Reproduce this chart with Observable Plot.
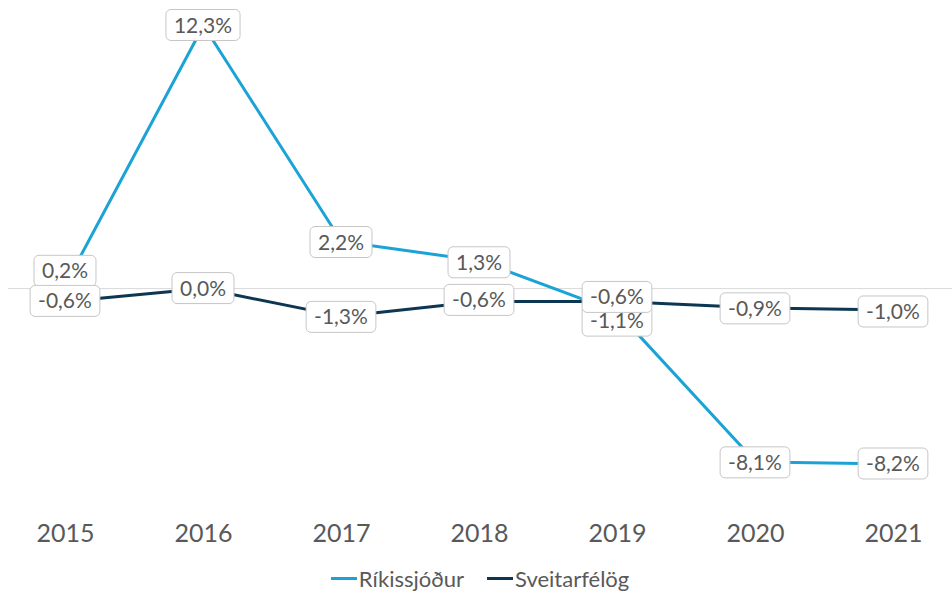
<!DOCTYPE html>
<html><head><meta charset="utf-8">
<script src="https://cdn.jsdelivr.net/npm/d3@7"></script>
<script src="https://cdn.jsdelivr.net/npm/@observablehq/plot@0.6"></script>
<style>
body{margin:0;background:#fff;font-family:Lato,"DejaVu Sans",sans-serif;}
#legend{display:flex;justify-content:center;align-items:center;height:37px;font-size:22px;color:#595959;gap:23px;padding-left:8px;}
#legend span.item{display:flex;align-items:center;}
#legend span.sw{display:inline-block;width:26px;height:3px;margin-right:2px;}
</style></head>
<body><div id="chart"></div><div id="legend"></div>
<script>
const years = [2015, 2016, 2017, 2018, 2019, 2020, 2021];
const seriesNames = ["Ríkissjóður", "Sveitarfélög"];
const rikissjodur = [0.2, 12.3, 2.2, 1.3, -1.1, -8.1, -8.2];
const sveitarfelog = [-0.6, 0.0, -1.3, -0.6, -0.6, -0.9, -1.0];
const colors = ["#1ba3d6", "#0c3651"];
// label nudges (px) to mimic the original label placement
const rikisNudge = [-13, 0, 1, 2, 9, 1, 0];
const sveitNudge = [0, 0, 1, -1, -4, 1, 2];

const fmt = v => v.toFixed(1).replace(".", ",") + "%";
const mk = (vals, nudge, s) => years.map((y, i) => ({year: y, value: vals[i], series: s, label: fmt(vals[i]), nudge: nudge[i]}));
const rData = mk(rikissjodur, rikisNudge, seriesNames[0]);
const sData = mk(sveitarfelog, sveitNudge, seriesNames[1]);

const cv = document.createElement("canvas").getContext("2d");
cv.font = "21px Lato";

const boxed = data => Plot.text(data, {
  x: "year", y: "value", text: "label",
  render(index, scales, values) {
    const g = d3.create("svg:g");
    for (const i of index) {
      const x = values.x[i], y = values.y[i] + data[i].nudge;
      const t = data[i].label;
      const w = cv.measureText(t).width + 16, h = 31;
      g.append("rect").attr("x", x - w / 2).attr("y", y - h / 2).attr("width", w).attr("height", h)
        .attr("rx", 5).attr("fill", "white").attr("stroke", "#c6c6c6").attr("stroke-width", 1);
      g.append("text").attr("x", x).attr("y", y).attr("dy", "0.36em").attr("text-anchor", "middle")
        .attr("font-size", 21).attr("font-family", "Lato").attr("fill", "#595959").text(t);
    }
    return g.node();
  }
});

const chart = Plot.plot({
  width: 952, height: 560,
  marginLeft: 8, marginRight: 0, marginTop: 10, marginBottom: 58,
  style: {fontFamily: "Lato", background: "white"},
  x: {type: "point", domain: years, range: [62, 895], padding: 0, label: null},
  y: {domain: [-10, 13], axis: null},
  marks: [
    Plot.ruleY([0], {stroke: "#d9d9d9", strokeWidth: 1}),
    Plot.axisX({tickSize: 0, tickPadding: 22, fontSize: 25, fill: "#595959", tickFormat: d => String(d), label: null}),
    Plot.line(rData, {x: "year", y: "value", stroke: colors[0], strokeWidth: 3}),
    Plot.line(sData, {x: "year", y: "value", stroke: colors[1], strokeWidth: 3}),
    boxed(rData),
    boxed(sData)
  ]
});
document.getElementById("chart").appendChild(chart);

const legend = document.getElementById("legend");
seriesNames.forEach((n, i) => {
  const it = document.createElement("span"); it.className = "item";
  const sw = document.createElement("span"); sw.className = "sw"; sw.style.background = colors[i];
  it.appendChild(sw); it.appendChild(document.createTextNode(n));
  legend.appendChild(it);
});
</script></body></html>
